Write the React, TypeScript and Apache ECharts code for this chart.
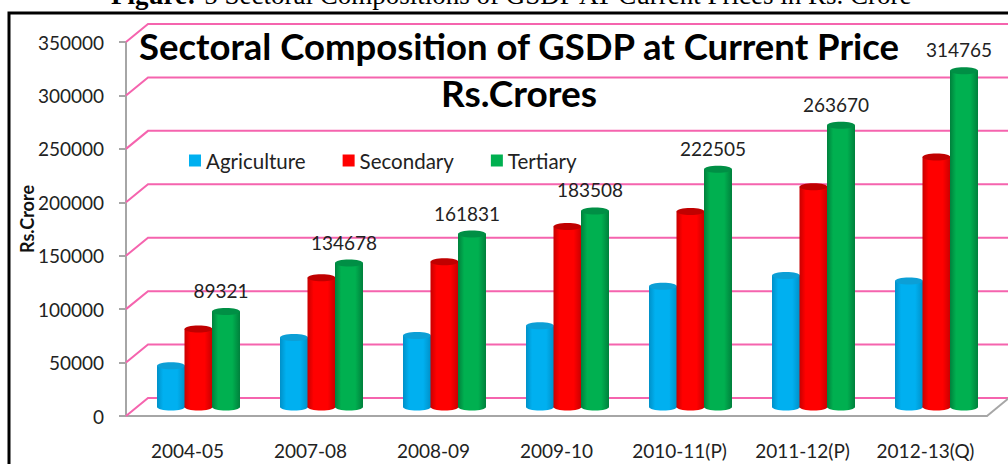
import React, { useEffect, useRef } from "react";
import * as echarts from "echarts";

const categories = ["2004-05", "2007-08", "2008-09", "2009-10", "2010-11(P)", "2011-12(P)", "2012-13(Q)"];
const agriculture = [38500, 65000, 67000, 76000, 113000, 123000, 118000];
const secondary = [73000, 121000, 136000, 169000, 183000, 206000, 234000];
const tertiary = [89321, 134678, 161831, 183508, 222505, 263670, 314765];
const yTicks = [0, 50000, 100000, 150000, 200000, 250000, 300000, 350000];

const FONT = "Lato";
const DEPTH_X = 22;
const DEPTH_Y = 18;

function cylinder(name: string, values: number[], slot: number, edge: string, mid: string, cap: string, showLabel: boolean) {
  return {
    type: "custom",
    name,
    xAxisIndex: 1,
    yAxisIndex: 1,
    z: 5 + slot,
    itemStyle: { color: mid },
    clip: false,
    encode: { x: 0, y: 1 },
    data: values.map((v, i) => [i, v]),
    renderItem: (_params: any, api: any) => {
      const top = api.coord([api.value(0), api.value(1)]);
      const base = api.coord([api.value(0), 0]);
      const w = 28;
      const cx = top[0] + slot * 27.5;
      const fill = new echarts.graphic.LinearGradient(0, 0, 1, 0, [
        { offset: 0, color: edge },
        { offset: 0.22, color: mid },
        { offset: 0.72, color: mid },
        { offset: 1, color: edge },
      ]);
      const children: any[] = [
        { type: "ellipse", shape: { cx, cy: base[1], rx: w / 2, ry: 3.5 }, style: { fill } },
        { type: "rect", shape: { x: cx - w / 2, y: top[1], width: w, height: base[1] - top[1] }, style: { fill } },
        { type: "ellipse", shape: { cx, cy: top[1], rx: w / 2, ry: 3.5 }, style: { fill: cap } },
      ];
      if (showLabel) {
        children.push({
          type: "text",
          x: cx - 5,
          y: top[1] - 21,
          style: {
            text: String(api.value(1)),
            fill: "#222222",
            font: `19px ${FONT}`,
            align: "center",
            verticalAlign: "middle",
          },
        });
      }
      return { type: "group", children };
    },
  };
}

const gridSeries = {
  type: "custom",
  name: "grid",
  xAxisIndex: 0,
  yAxisIndex: 0,
  z: 1,
  silent: true,
  clip: false,
  encode: { y: 0 },
  data: yTicks.map((v) => [v]),
  renderItem: (params: any, api: any) => {
    const y = api.coord([0, api.value(0)])[1];
    const x = params.coordSys.x;
    return {
      type: "polyline",
      shape: {
        points: [
          [x, y],
          [x + DEPTH_X, y - DEPTH_Y],
          [x + params.coordSys.width + DEPTH_X, y - DEPTH_Y],
        ],
      },
      style: { fill: "none", stroke: "#F564AE", lineWidth: 2 },
    };
  },
};

export default function App() {
  const ref = useRef<HTMLDivElement>(null);
  useEffect(() => {
    const chart = echarts.init(ref.current!, undefined, { renderer: "svg" });
    chart.setOption({
      animation: false,
      backgroundColor: "#ffffff",
      textStyle: { fontFamily: FONT },
      title: [
        {
          text: "Sectoral Composition of GSDP at Current Price",
          left: 514,
          top: 22,
          textAlign: "center",
          textStyle: { fontFamily: FONT, fontSize: 36.5, fontWeight: "bold", color: "#000000" },
        },
        {
          text: "Rs.Crores",
          left: 514,
          top: 69,
          textAlign: "center",
          textStyle: { fontFamily: FONT, fontSize: 37, fontWeight: "bold", color: "#000000" },
        },
      ],
      legend: {
        left: 184,
        top: 145,
        itemWidth: 12,
        itemHeight: 12,
        itemGap: 37,
        icon: "rect",
        data: ["Agriculture", "Secondary", "Tertiary"],
        textStyle: { fontFamily: FONT, fontSize: 20.5, color: "#222222" },
      },
      grid: [
        { left: 126, top: 42, width: 861, height: 374 },
        { left: 137, top: 33, width: 861, height: 374 },
      ],
      xAxis: [
        {
          type: "category",
          gridIndex: 0,
          data: categories,
          axisLine: { lineStyle: { color: "#A6A6A6", width: 2 } },
          axisTick: { length: 8, lineStyle: { color: "#A6A6A6", width: 2 } },
          axisLabel: { fontFamily: FONT, fontSize: 19, color: "#222222", margin: 25, interval: 0 },
        },
        { type: "category", gridIndex: 1, data: categories, show: false },
      ],
      yAxis: [
        {
          type: "value",
          gridIndex: 0,
          min: 0,
          max: 350000,
          interval: 50000,
          name: "Rs.Crore",
          nameLocation: "middle",
          nameGap: 90,
          nameMoveOverlap: false,
          nameTextStyle: { fontFamily: FONT, fontSize: 18, fontWeight: "bold", color: "#111111", padding: [0, 0, 0, 20] },
          axisLine: { show: true, lineStyle: { color: "#A6A6A6", width: 2 } },
          axisTick: { show: true, length: 7, lineStyle: { color: "#A6A6A6", width: 2 } },
          axisLabel: {
            fontFamily: FONT,
            fontSize: 19,
            color: "#222222",
            margin: 22,
            formatter: (v: number) => String(v),
          },
          splitLine: { show: false },
        },
        { type: "value", gridIndex: 1, min: 0, max: 350000, interval: 50000, show: false },
      ],
      graphic: [
        {
          type: "text",
          x: 512,
          y: -5,
          style: {
            text: "{b|Figure:} 5 Sectoral Compositions of GSDP AT Current Prices in Rs. Crore",
            align: "center",
            verticalAlign: "middle",
            font: '27px "Liberation Serif"',
            fill: "#000000",
            rich: { b: { font: 'bold 27px "Liberation Serif"', fill: "#000000" } },
          },
        },
        {
          type: "rect",
          shape: { x: 9, y: 13, width: 1100, height: 600 },
          style: { fill: "none", stroke: "#000000", lineWidth: 3 },
          z: 20,
        },
        {
          type: "line",
          shape: { x1: 987, y1: 416, x2: 1009, y2: 398 },
          style: { stroke: "#A6A6A6", lineWidth: 2 },
          z: 2,
        },
      ],
      series: [
        gridSeries,
        cylinder("Agriculture", agriculture, -1, "#0090C8", "#00B0F0", "#0C9FD6", false),
        cylinder("Secondary", secondary, 0, "#C80000", "#FF0000", "#C00000", false),
        cylinder("Tertiary", tertiary, 1, "#00803C", "#00B050", "#008F45", true),
      ],
    });
    return () => chart.dispose();
  }, []);
  return <div ref={ref} style={{ position: "fixed", left: 0, top: 0, width: 1008, height: 464 }} />;
}
